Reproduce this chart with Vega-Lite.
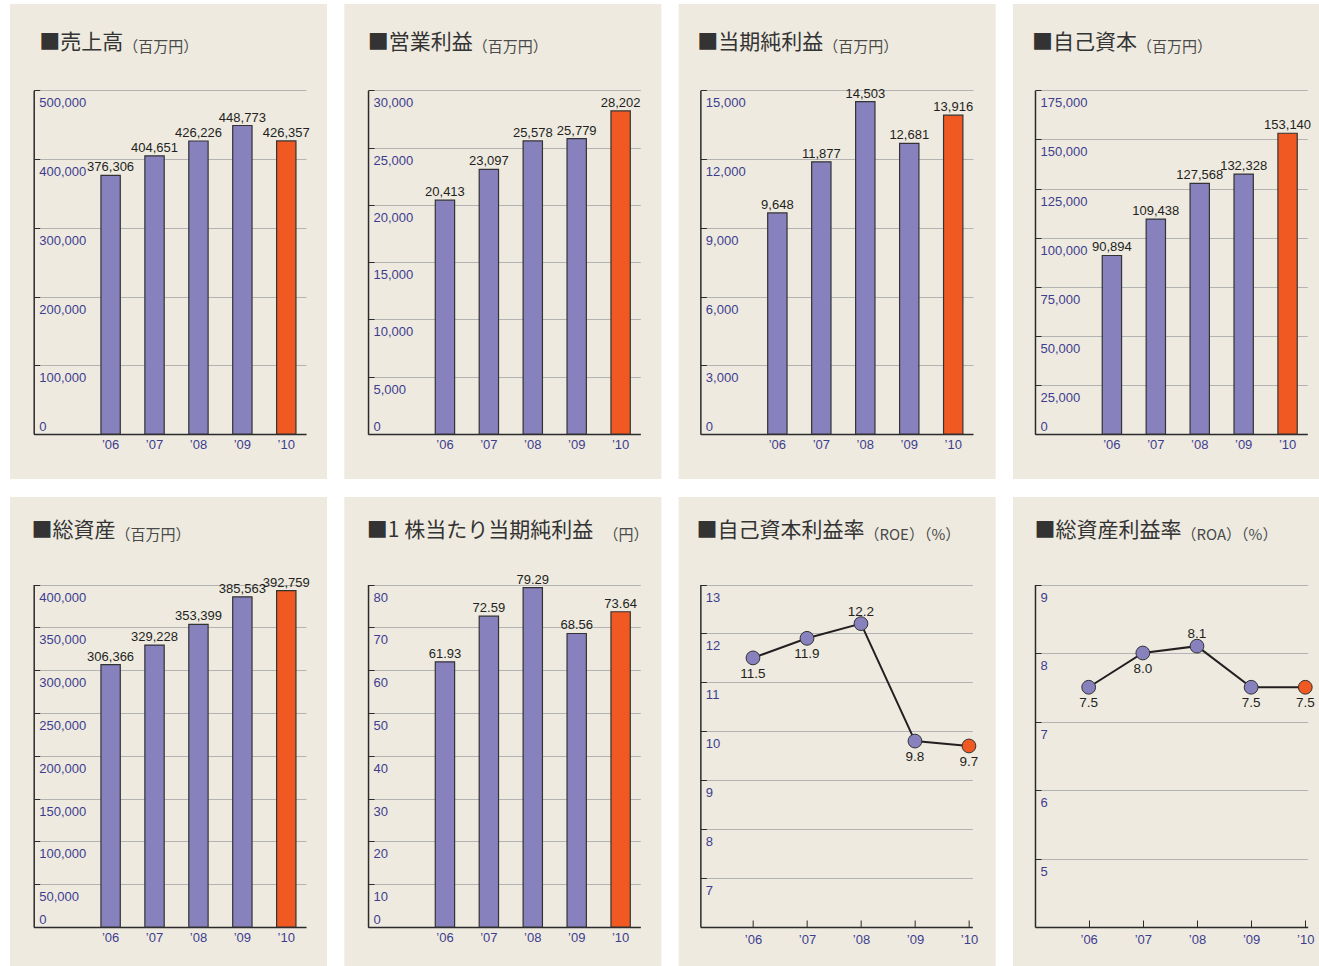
{
  "$schema": "https://vega.github.io/schema/vega-lite/v6.json",
  "background": "white",
  "padding": {"left": 10, "top": 4, "right": 0, "bottom": 0},
  "datasets": {
    "fin": [
      {"metric": "sales", "year": "’06", "value": 376306},
      {"metric": "sales", "year": "’07", "value": 404651},
      {"metric": "sales", "year": "’08", "value": 426226},
      {"metric": "sales", "year": "’09", "value": 448773},
      {"metric": "sales", "year": "’10", "value": 426357},
      {"metric": "op", "year": "’06", "value": 20413},
      {"metric": "op", "year": "’07", "value": 23097},
      {"metric": "op", "year": "’08", "value": 25578},
      {"metric": "op", "year": "’09", "value": 25779},
      {"metric": "op", "year": "’10", "value": 28202},
      {"metric": "net", "year": "’06", "value": 9648},
      {"metric": "net", "year": "’07", "value": 11877},
      {"metric": "net", "year": "’08", "value": 14503},
      {"metric": "net", "year": "’09", "value": 12681},
      {"metric": "net", "year": "’10", "value": 13916},
      {"metric": "equity", "year": "’06", "value": 90894},
      {"metric": "equity", "year": "’07", "value": 109438},
      {"metric": "equity", "year": "’08", "value": 127568},
      {"metric": "equity", "year": "’09", "value": 132328},
      {"metric": "equity", "year": "’10", "value": 153140},
      {"metric": "assets", "year": "’06", "value": 306366},
      {"metric": "assets", "year": "’07", "value": 329228},
      {"metric": "assets", "year": "’08", "value": 353399},
      {"metric": "assets", "year": "’09", "value": 385563},
      {"metric": "assets", "year": "’10", "value": 392759},
      {"metric": "eps", "year": "’06", "value": 61.93},
      {"metric": "eps", "year": "’07", "value": 72.59},
      {"metric": "eps", "year": "’08", "value": 79.29},
      {"metric": "eps", "year": "’09", "value": 68.56},
      {"metric": "eps", "year": "’10", "value": 73.64},
      {"metric": "roe", "year": "’06", "value": 11.5},
      {"metric": "roe", "year": "’07", "value": 11.9},
      {"metric": "roe", "year": "’08", "value": 12.2},
      {"metric": "roe", "year": "’09", "value": 9.8},
      {"metric": "roe", "year": "’10", "value": 9.7},
      {"metric": "roa", "year": "’06", "value": 7.5},
      {"metric": "roa", "year": "’07", "value": 8.0},
      {"metric": "roa", "year": "’08", "value": 8.1},
      {"metric": "roa", "year": "’09", "value": 7.5},
      {"metric": "roa", "year": "’10", "value": 7.5}
    ]
  },
  "data": {"name": "fin"},
  "columns": 4,
  "spacing": {"row": 18, "column": 17.33},
  "bounds": "flush",
  "concat": [
    {
      "width": 317, "height": 475,
      "view": {"fill": "#EEEAE0", "stroke": null},
      "transform": [{"filter": "datum.metric == 'sales'"}],
      "encoding": {
        "x": {"field": "year", "type": "nominal", "sort": null,
          "scale": {"range": [23.7, 296], "paddingInner": 0.56, "paddingOuter": 0.88, "align": 0.87},
          "axis": {"offset": -45, "title": "■売上高", "titleX": 28.7, "titleY": -391.5}},
        "y": {"field": "value", "type": "quantitative",
          "scale": {"domain": [0, 500000], "range": [430, 86.3], "nice": false},
          "axis": {"offset": -23.7, "values": [0, 100000, 200000, 300000, 400000, 500000], "format": ",d",
            "title": "（百万円）", "titleX": 89, "titleY": 42.7,
            "labelBaseline": {"condition": {"test": "datum.value == 0", "value": "alphabetic"}, "value": "top"},
            "labelOffset": {"condition": {"test": "datum.value == 0", "value": -4}, "value": 6.5}}}
      },
      "layer": [
        {"mark": {"type": "bar", "stroke": "#333333", "strokeWidth": 1.2},
         "encoding": {"color": {"condition": {"test": "datum.year == '’10'", "value": "#F05A22"}, "value": "#8782BE"}}},
        {"mark": {"type": "text", "baseline": "alphabetic", "dy": -4, "font": "Liberation Sans", "fontSize": 13, "color": "#231F20"},
         "encoding": {"text": {"field": "value", "format": ",d"}}}
      ]
    },
    {
      "width": 317, "height": 475,
      "view": {"fill": "#EEEAE0", "stroke": null},
      "transform": [{"filter": "datum.metric == 'op'"}],
      "encoding": {
        "x": {"field": "year", "type": "nominal", "sort": null,
          "scale": {"range": [23.7, 296], "paddingInner": 0.56, "paddingOuter": 0.88, "align": 0.87},
          "axis": {"offset": -45, "title": "■営業利益", "titleX": 23, "titleY": -391.5}},
        "y": {"field": "value", "type": "quantitative",
          "scale": {"domain": [0, 30000], "range": [430, 86.3], "nice": false},
          "axis": {"offset": -23.7, "values": [0, 5000, 10000, 15000, 20000, 25000, 30000], "format": ",d",
            "title": "（百万円）", "titleX": 104.3, "titleY": 42.7,
            "labelBaseline": {"condition": {"test": "datum.value == 0", "value": "alphabetic"}, "value": "top"},
            "labelOffset": {"condition": {"test": "datum.value == 0", "value": -4}, "value": 6.5}}}
      },
      "layer": [
        {"mark": {"type": "bar", "stroke": "#333333", "strokeWidth": 1.2},
         "encoding": {"color": {"condition": {"test": "datum.year == '’10'", "value": "#F05A22"}, "value": "#8782BE"}}},
        {"mark": {"type": "text", "baseline": "alphabetic", "dy": -4, "font": "Liberation Sans", "fontSize": 13, "color": "#231F20"},
         "encoding": {"text": {"field": "value", "format": ",d"}}}
      ]
    },
    {
      "width": 317, "height": 475,
      "view": {"fill": "#EEEAE0", "stroke": null},
      "transform": [{"filter": "datum.metric == 'net'"}],
      "encoding": {
        "x": {"field": "year", "type": "nominal", "sort": null,
          "scale": {"range": [21.7, 294.3], "paddingInner": 0.56, "paddingOuter": 0.88, "align": 0.87},
          "axis": {"offset": -45, "title": "■当期純利益", "titleX": 18, "titleY": -391.5}},
        "y": {"field": "value", "type": "quantitative",
          "scale": {"domain": [0, 15000], "range": [430, 86.3], "nice": false},
          "axis": {"offset": -21.7, "values": [0, 3000, 6000, 9000, 12000, 15000], "format": ",d",
            "title": "（百万円）", "titleX": 122.3, "titleY": 42.7,
            "labelBaseline": {"condition": {"test": "datum.value == 0", "value": "alphabetic"}, "value": "top"},
            "labelOffset": {"condition": {"test": "datum.value == 0", "value": -4}, "value": 6.5}}}
      },
      "layer": [
        {"mark": {"type": "bar", "stroke": "#333333", "strokeWidth": 1.2},
         "encoding": {"color": {"condition": {"test": "datum.year == '’10'", "value": "#F05A22"}, "value": "#8782BE"}}},
        {"mark": {"type": "text", "baseline": "alphabetic", "dy": -4, "font": "Liberation Sans", "fontSize": 13, "color": "#231F20"},
         "encoding": {"text": {"field": "value", "format": ",d"}}}
      ]
    },
    {
      "width": 306, "height": 475,
      "view": {"fill": "#EEEAE0", "stroke": null},
      "transform": [{"filter": "datum.metric == 'equity'"}],
      "encoding": {
        "x": {"field": "year", "type": "nominal", "sort": null,
          "scale": {"range": [22, 294.3], "paddingInner": 0.56, "paddingOuter": 0.88, "align": 0.87},
          "axis": {"offset": -45, "title": "■自己資本", "titleX": 18.5, "titleY": -391.5}},
        "y": {"field": "value", "type": "quantitative",
          "scale": {"domain": [0, 175000], "range": [430, 86.3], "nice": false},
          "axis": {"offset": -22, "values": [0, 25000, 50000, 75000, 100000, 125000, 150000, 175000], "format": ",d",
            "title": "（百万円）", "titleX": 101.5, "titleY": 42.7,
            "labelBaseline": {"condition": {"test": "datum.value == 0", "value": "alphabetic"}, "value": "top"},
            "labelOffset": {"condition": {"test": "datum.value == 0", "value": -4}, "value": 6.5}}}
      },
      "layer": [
        {"mark": {"type": "bar", "stroke": "#333333", "strokeWidth": 1.2},
         "encoding": {"color": {"condition": {"test": "datum.year == '’10'", "value": "#F05A22"}, "value": "#8782BE"}}},
        {"mark": {"type": "text", "baseline": "alphabetic", "dy": -4, "font": "Liberation Sans", "fontSize": 13, "color": "#231F20"},
         "encoding": {"text": {"field": "value", "format": ",d"}}}
      ]
    },
    {
      "width": 317, "height": 469,
      "view": {"fill": "#EEEAE0", "stroke": null},
      "transform": [{"filter": "datum.metric == 'assets'"}],
      "encoding": {
        "x": {"field": "year", "type": "nominal", "sort": null,
          "scale": {"range": [23.7, 296], "paddingInner": 0.56, "paddingOuter": 0.88, "align": 0.87},
          "axis": {"offset": -39, "title": "■総資産", "titleX": 21, "titleY": -396.2}},
        "y": {"field": "value", "type": "quantitative",
          "scale": {"domain": [0, 400000], "range": [430, 87.5], "nice": false},
          "axis": {"offset": -23.7, "values": [0, 50000, 100000, 150000, 200000, 250000, 300000, 350000, 400000], "format": ",d",
            "title": "（百万円）", "titleX": 81.3, "titleY": 37.8,
            "labelBaseline": {"condition": {"test": "datum.value == 0", "value": "alphabetic"}, "value": "top"},
            "labelOffset": {"condition": {"test": "datum.value == 0", "value": -4}, "value": 6.5}}}
      },
      "layer": [
        {"mark": {"type": "bar", "stroke": "#333333", "strokeWidth": 1.2},
         "encoding": {"color": {"condition": {"test": "datum.year == '’10'", "value": "#F05A22"}, "value": "#8782BE"}}},
        {"mark": {"type": "text", "baseline": "alphabetic", "dy": -4, "font": "Liberation Sans", "fontSize": 13, "color": "#231F20"},
         "encoding": {"text": {"field": "value", "format": ",d"}}}
      ]
    },
    {
      "width": 317, "height": 469,
      "view": {"fill": "#EEEAE0", "stroke": null},
      "transform": [{"filter": "datum.metric == 'eps'"}],
      "encoding": {
        "x": {"field": "year", "type": "nominal", "sort": null,
          "scale": {"range": [23.7, 296], "paddingInner": 0.56, "paddingOuter": 0.88, "align": 0.87},
          "axis": {"offset": -39, "title": "■1 株当たり当期純利益", "titleX": 22, "titleY": -396.2}},
        "y": {"field": "value", "type": "quantitative",
          "scale": {"domain": [0, 80], "range": [430, 87.5], "nice": false},
          "axis": {"offset": -23.7, "values": [0, 10, 20, 30, 40, 50, 60, 70, 80], "format": "d",
            "title": "（円）", "titleX": 235, "titleY": 37.8,
            "labelBaseline": {"condition": {"test": "datum.value == 0", "value": "alphabetic"}, "value": "top"},
            "labelOffset": {"condition": {"test": "datum.value == 0", "value": -4}, "value": 6.5}}}
      },
      "layer": [
        {"mark": {"type": "bar", "stroke": "#333333", "strokeWidth": 1.2},
         "encoding": {"color": {"condition": {"test": "datum.year == '’10'", "value": "#F05A22"}, "value": "#8782BE"}}},
        {"mark": {"type": "text", "baseline": "alphabetic", "dy": -4, "font": "Liberation Sans", "fontSize": 13, "color": "#231F20"},
         "encoding": {"text": {"field": "value", "format": ".2f"}}}
      ]
    },
    {
      "width": 317, "height": 469,
      "view": {"fill": "#EEEAE0", "stroke": null},
      "transform": [{"filter": "datum.metric == 'roe'"}],
      "encoding": {
        "x": {"field": "year", "type": "nominal", "sort": null,
          "scale": {"type": "point", "range": [21.7, 293.7], "padding": 0.519, "align": 0.939},
          "axis": {"offset": -39, "ticks": true, "tickSize": -7, "labelPadding": 13, "title": "■自己資本利益率", "titleX": 17.3, "titleY": -396.2}},
        "y": {"field": "value", "type": "quantitative",
          "scale": {"domain": [6, 13], "range": [430, 87.5], "nice": false, "zero": false},
          "axis": {"offset": -21.7, "values": [7, 8, 9, 10, 11, 12, 13], "format": "d",
            "title": "（ROE）（%）", "titleX": 163.6, "titleY": 37.8,
            "labelBaseline": "top", "labelOffset": 6.5}}
      },
      "layer": [
        {"mark": {"type": "line", "color": "#231F20", "strokeWidth": 2}},
        {"mark": {"type": "point", "filled": true, "size": 190, "opacity": 1, "stroke": "#333333", "strokeWidth": 1},
         "encoding": {"color": {"condition": {"test": "datum.year == '’10'", "value": "#F05A22"}, "value": "#8782BE"}}},
        {"transform": [{"filter": "datum.year != '’08'"}],
         "mark": {"type": "text", "baseline": "top", "dy": 9, "font": "Liberation Sans", "fontSize": 13.5, "color": "#231F20"},
         "encoding": {"text": {"field": "value", "format": ".1f"}}},
        {"transform": [{"filter": "datum.year == '’08'"}],
         "mark": {"type": "text", "baseline": "alphabetic", "dy": -8, "font": "Liberation Sans", "fontSize": 13.5, "color": "#231F20"},
         "encoding": {"text": {"field": "value", "format": ".1f"}}}
      ]
    },
    {
      "width": 306, "height": 469,
      "view": {"fill": "#EEEAE0", "stroke": null},
      "transform": [{"filter": "datum.metric == 'roa'"}],
      "encoding": {
        "x": {"field": "year", "type": "nominal", "sort": null,
          "scale": {"type": "point", "range": [22, 294.7], "padding": 0.518, "align": 0.957},
          "axis": {"offset": -39, "ticks": true, "tickSize": -7, "labelPadding": 13, "title": "■総資産利益率", "titleX": 21, "titleY": -396.2}},
        "y": {"field": "value", "type": "quantitative",
          "scale": {"domain": [4, 9], "range": [430, 87.5], "nice": false, "zero": false},
          "axis": {"offset": -22, "values": [5, 6, 7, 8, 9], "format": "d",
            "title": "（ROA）（%）", "titleX": 146, "titleY": 37.8,
            "labelBaseline": "top", "labelOffset": 6.5}}
      },
      "layer": [
        {"mark": {"type": "line", "color": "#231F20", "strokeWidth": 2}},
        {"mark": {"type": "point", "filled": true, "size": 190, "opacity": 1, "stroke": "#333333", "strokeWidth": 1},
         "encoding": {"color": {"condition": {"test": "datum.year == '’10'", "value": "#F05A22"}, "value": "#8782BE"}}},
        {"transform": [{"filter": "datum.year != '’08'"}],
         "mark": {"type": "text", "baseline": "top", "dy": 9, "font": "Liberation Sans", "fontSize": 13.5, "color": "#231F20"},
         "encoding": {"text": {"field": "value", "format": ".1f"}}},
        {"transform": [{"filter": "datum.year == '’08'"}],
         "mark": {"type": "text", "baseline": "alphabetic", "dy": -8, "font": "Liberation Sans", "fontSize": 13.5, "color": "#231F20"},
         "encoding": {"text": {"field": "value", "format": ".1f"}}}
      ]
    }
  ],
  "config": {
    "view": {"stroke": null},
    "axis": {
      "labelFont": "Liberation Sans",
      "labelFontSize": 13,
      "labelColor": "#3D3D8F",
      "domainColor": "#2B2B2B",
      "domainWidth": 1.5,
      "gridColor": "#B3B3B3",
      "gridWidth": 1,
      "tickColor": "#2B2B2B",
      "tickWidth": 1,
      "titleFont": "Noto Sans CJK JP",
      "titleFontWeight": "normal",
      "titleColor": "#333333",
      "titleAngle": 0,
      "titleAlign": "left",
      "titleBaseline": "middle",
      "labelOverlap": false,
      "labelBound": false,
      "labelFlush": false
    },
    "axisX": {"grid": false, "labelAngle": 0, "ticks": false, "labelPadding": 4, "labelBaseline": "top", "titleFontSize": 21},
    "axisY": {"grid": true, "ticks": true, "tickSize": -6, "labelAlign": "left", "labelPadding": 1, "titleFontSize": 15, "titleColor": "#4A4A4A"}
  }
}
